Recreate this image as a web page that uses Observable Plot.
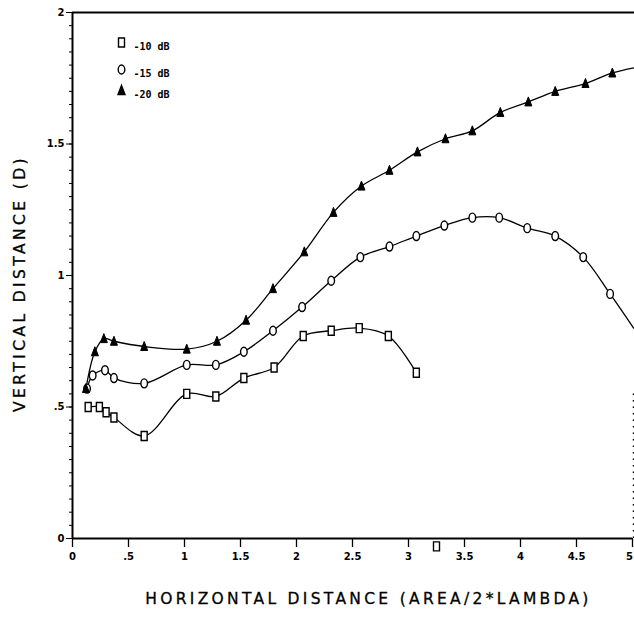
<!DOCTYPE html>
<html>
<head>
<meta charset="utf-8">
<script src="https://cdn.jsdelivr.net/npm/d3@7"></script>
<script src="https://cdn.jsdelivr.net/npm/@observablehq/plot@0.6"></script>
<style>
  html, body { margin: 0; padding: 0; background: #fff; }
  #chart svg { display: block; }
</style>
</head>
<body>
<div id="chart"></div>
<script>
// ---- data ----
const seriesNames = ["-10 dB", "-15 dB", "-20 dB"];

const xTicks = [0, 0.5, 1, 1.5, 2, 2.5, 3, 3.5, 4, 4.5, 5];
const xTickLabels = ["0", ".5", "1", "1.5", "2", "2.5", "3", "3.5", "4", "4.5", "5"];
const yTicks = [0, 0.5, 1, 1.5, 2];
const yTickLabels = ["0", ".5", "1", "1.5", "2"];

// -10 dB (squares)
const sqX = [0.14, 0.24, 0.30, 0.37, 0.64, 1.02, 1.28, 1.53, 1.80, 2.06, 2.31, 2.56, 2.82, 3.07];
const sqY = [0.50, 0.50, 0.48, 0.46, 0.39, 0.55, 0.54, 0.61, 0.65, 0.77, 0.79, 0.80, 0.77, 0.63];
// stray square marker on the x axis
const strayX = [3.25];
const strayY = [-0.03];

// -15 dB (circles)
const ciX = [0.13, 0.18, 0.29, 0.37, 0.64, 1.02, 1.28, 1.53, 1.79, 2.05, 2.31, 2.57, 2.83, 3.07, 3.32, 3.57, 3.81, 4.06, 4.31, 4.56, 4.80];
const ciY = [0.57, 0.62, 0.64, 0.61, 0.59, 0.66, 0.66, 0.71, 0.79, 0.88, 0.98, 1.07, 1.11, 1.15, 1.19, 1.22, 1.22, 1.18, 1.15, 1.07, 0.93];
const ciTailX = [5.01];
const ciTailY = [0.80];

// -20 dB (triangles)
const trX = [0.12, 0.20, 0.28, 0.37, 0.64, 1.02, 1.29, 1.55, 1.79, 2.07, 2.33, 2.58, 2.83, 3.08, 3.33, 3.57, 3.82, 4.07, 4.31, 4.58, 4.82];
const trY = [0.57, 0.71, 0.76, 0.75, 0.73, 0.72, 0.75, 0.83, 0.95, 1.09, 1.24, 1.34, 1.40, 1.47, 1.52, 1.55, 1.62, 1.66, 1.70, 1.73, 1.77];
const trTailX = [5.02];
const trTailY = [1.79];

// dotted right edge seen in the scan
const edgeX = [5.0];
const edgeY = [0, 0.55];

const xLabel = "HORIZONTAL DISTANCE (AREA/2*LAMBDA)";
const yLabel = "VERTICAL DISTANCE (D)";

// ---- build tables ----
const zip = (xs, ys, s) => xs.map((x, i) => ({x, y: ys[i], s}));
const squares = zip(sqX, sqY, seriesNames[0]);
const circles = zip(ciX, ciY, seriesNames[1]);
const triangles = zip(trX, trY, seriesNames[2]);
const stray = zip(strayX, strayY, seriesNames[0]);
const lines = [
  ...squares,
  ...circles, ...zip(ciTailX, ciTailY, seriesNames[1]),
  ...triangles, ...zip(trTailX, trTailY, seriesNames[2])
];
const minorTicks = d3.range(0, 2.0001, 0.05);
const lastIdx = xTicks.length - 1;

// ---- custom symbols ----
const rectSym = {draw(ctx) { const w = 3, h = 4.5; ctx.moveTo(-w, -h); ctx.lineTo(w, -h); ctx.lineTo(w, h); ctx.lineTo(-w, h); ctx.closePath(); }};
const ovalSym = {draw(ctx) {
  const rx = 3.3, ry = 4.5, k = 0.5523;
  ctx.moveTo(rx, 0);
  ctx.bezierCurveTo(rx, ry * k, rx * k, ry, 0, ry);
  ctx.bezierCurveTo(-rx * k, ry, -rx, ry * k, -rx, 0);
  ctx.bezierCurveTo(-rx, -ry * k, -rx * k, -ry, 0, -ry);
  ctx.bezierCurveTo(rx * k, -ry, rx, -ry * k, rx, 0);
  ctx.closePath();
}};
const triSym = {draw(ctx) { ctx.moveTo(0, -5); ctx.lineTo(3.5, 4); ctx.lineTo(-3.5, 4); ctx.closePath(); }};
const syms = [rectSym, ovalSym, triSym];

const font = "DejaVu Sans, sans-serif";
const legendDy = [30, 57, 78];

const legendMarks = seriesNames.flatMap((name, i) => [
  Plot.dot([name], {frameAnchor: "top-left", dx: 49, dy: legendDy[i], symbol: syms[i], r: 4,
    fill: i === 2 ? "black" : "white", stroke: "black", strokeWidth: 1.4}),
  Plot.text([name], {frameAnchor: "top-left", dx: 61, dy: legendDy[i], text: d => d, textAnchor: "start",
    fontSize: 10, fontWeight: "bold", fontFamily: "DejaVu Sans Mono, monospace", fill: "black"})
]);

const chart = Plot.plot({
  width: 634,
  height: 617,
  marginLeft: 72,
  marginRight: 2,
  marginTop: 12,
  marginBottom: 79,
  style: {fontFamily: font, background: "white", color: "black"},
  x: {domain: [0, 5]},
  y: {domain: [0, 2]},
  marks: [
    Plot.axisY({ticks: minorTicks, tickSize: 3, tickFormat: () => "", label: null, strokeWidth: 1}),
    Plot.axisY({ticks: yTicks, tickSize: 6, tickFormat: (d, i) => yTickLabels[i], label: null,
      fontSize: 10, fontWeight: "bold", tickPadding: 2}),
    Plot.axisX({ticks: xTicks, tickSize: 9, tickFormat: (d, i) => i === lastIdx ? "" : xTickLabels[i], label: null,
      fontSize: 10, fontWeight: "bold", tickPadding: 5, strokeWidth: 1.3}),
    Plot.text([xTicks[lastIdx]], {x: d => d, frameAnchor: "bottom", dy: 21, dx: -3, text: () => xTickLabels[lastIdx],
      fontSize: 10, fontWeight: "bold", fill: "black"}),
    Plot.ruleX([0], {stroke: "black", strokeWidth: 2}),
    Plot.ruleY([0], {stroke: "black", strokeWidth: 2}),
    Plot.ruleY([2], {stroke: "black", strokeWidth: 2, x1: 0, x2: 5.04}),
    Plot.ruleX(edgeX, {y1: edgeY[0], y2: edgeY[1], dx: 1, stroke: "black", strokeWidth: 1.5, strokeDasharray: "1.5,5"}),
    Plot.line(lines, {x: "x", y: "y", z: "s", curve: "catmull-rom", stroke: "black", strokeWidth: 1.3}),
    Plot.dot(squares, {x: "x", y: "y", symbol: rectSym, r: 4, fill: "white", stroke: "black", strokeWidth: 1.4}),
    Plot.dot(stray, {x: "x", y: "y", symbol: rectSym, r: 4, fill: "white", stroke: "black", strokeWidth: 1.4}),
    Plot.dot(circles, {x: "x", y: "y", symbol: ovalSym, r: 4, fill: "white", stroke: "black", strokeWidth: 1.4}),
    Plot.dot(triangles, {x: "x", y: "y", symbol: triSym, r: 4, fill: "black", stroke: "black", strokeWidth: 1}),
    ...legendMarks,
    Plot.text([xLabel], {frameAnchor: "bottom", dy: 65, dx: 16, text: d => d, fontSize: 15.5,
      fontFamily: font, fill: "black", stroke: "black", strokeWidth: 0.3, textAnchor: "middle", className: "xlab"}),
    Plot.text([yLabel], {frameAnchor: "left", dx: -52, dy: 8, rotate: -90, text: d => d, fontSize: 15.5,
      fontFamily: font, fill: "black", stroke: "black", strokeWidth: 0.3, textAnchor: "middle", className: "ylab"})
  ]
});
d3.select(chart).selectAll(".xlab text").style("letter-spacing", "3.3px");
d3.select(chart).selectAll(".ylab text").style("letter-spacing", "3.4px");
document.getElementById("chart").appendChild(chart);
</script>
</body>
</html>
